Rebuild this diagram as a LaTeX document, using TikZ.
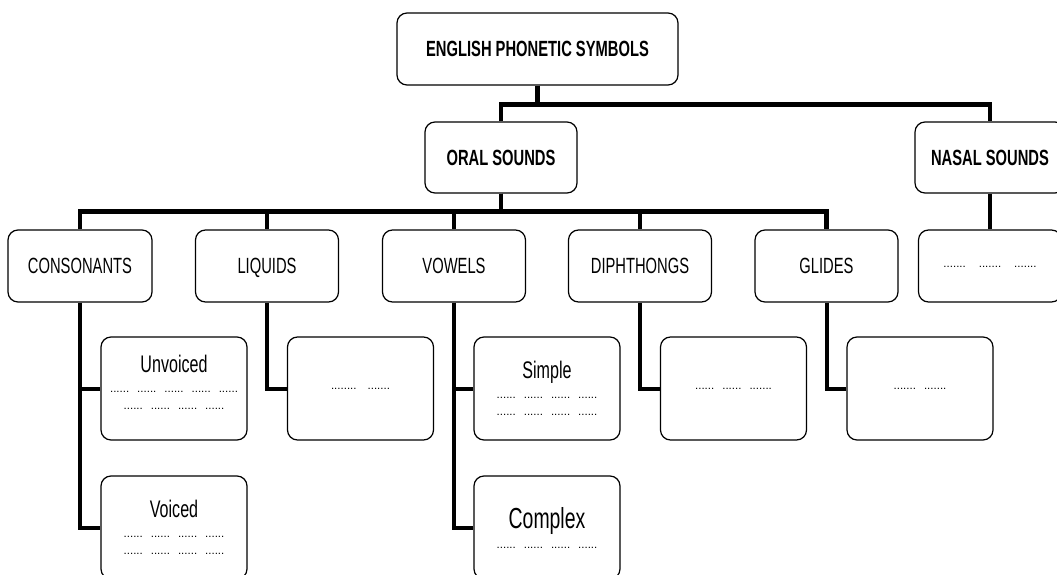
\documentclass[tikz,border=0pt]{standalone}
\usepackage{fontspec}
\setmainfont{Liberation Sans}[FakeStretch=0.67]
\newfontfamily\dotfont{Liberation Sans}
\usepackage{tikz}

\newcommand{\dotgrp}{......}
\newcommand{\gp}{\hspace{8pt}}
\newcommand{\leaflabel}[1]{{\rmfamily\fontsize{24}{26}\selectfont #1}}

\begin{document}
\begin{tikzpicture}[x=1pt, y=-1pt,
	box/.style={draw, line width=1.2pt, rounded corners=10pt, align=center, inner sep=0pt},
	head/.style={box, minimum height=71pt, text height=15.5pt, text depth=0pt, font=\fontsize{22}{24}\selectfont\bfseries},
	kind/.style={box, minimum width=143pt, minimum height=72pt, text height=15.5pt, text depth=0pt, font=\fontsize{22}{24}\selectfont},
	leaf/.style={box, minimum width=146pt, minimum height=103pt, font=\dotfont\fontsize{11.5}{17}\selectfont},
	link/.style={line width=4.5pt},
	twig/.style={line width=4pt}]
	
	\useasboundingbox (0,0) rectangle (1057,575);
	\clip (0,0) rectangle (1057,575); % nasal and bottom boxes run off the page
	
	\node[head, minimum width=281pt, minimum height=72pt] (top) at (537.5,49) {ENGLISH PHONETIC SYMBOLS};
	\node[head, minimum width=152pt] (oral) at (501,157.5) {ORAL SOUNDS};
	\node[head, minimum width=150pt] (nasal) at (990,157.5) {NASAL SOUNDS};
	
	\node[kind, minimum width=144pt] (cons) at (80,266) {CONSONANTS};
	\node[kind] (liq) at (267,266) {LIQUIDS};
	\node[kind] (vow) at (454,266) {VOWELS};
	\node[kind] (diph) at (640,266) {DIPHTHONGS};
	\node[kind] (gli) at (826.5,266) {GLIDES};
	\node[kind, text height=2pt, font=\dotfont\fontsize{11.5}{17}\selectfont] (nasalsub) at (990,266)
		{.......\hspace{13pt}.......\hspace{13pt}.......};
	
	\node[leaf] (unv) at (174,388.5) {\leaflabel{Unvoiced}\\[3pt]
		\dotgrp\gp\dotgrp\gp\dotgrp\gp\dotgrp\gp\dotgrp\\
		\dotgrp\gp\dotgrp\gp\dotgrp\gp\dotgrp\\[-5pt]};
	\node[leaf] (voi) at (174,527.5) {\leaflabel{Voiced}\\[3pt]
		\dotgrp\gp\dotgrp\gp\dotgrp\gp\dotgrp\\
		\dotgrp\gp\dotgrp\gp\dotgrp\gp\dotgrp};
	\node[leaf] (liqsub) at (360.5,388.5) {........\hspace{11pt}.......};
	\node[leaf] (simp) at (547,388.5) {\leaflabel{Simple}\\[3pt]
		\dotgrp\gp\dotgrp\gp\dotgrp\gp\dotgrp\\
		\dotgrp\gp\dotgrp\gp\dotgrp\gp\dotgrp};
	\node[leaf] (comp) at (547,527.5) {{\rmfamily\fontsize{29}{30}\selectfont Complex}\\[3pt]
		\dotgrp\gp\dotgrp\gp\dotgrp\gp\dotgrp};
	\node[leaf] (diphsub) at (733.5,388.5) {\dotgrp\gp\dotgrp\gp.......};
	\node[leaf] (glisub) at (920,388.5) {.......\gp.......};
	
	\draw[link] (top.south) -- ++(0,19) -| (oral.north);
	\draw[link] (top.south) -- ++(0,19) -| (nasal.north);
	\foreach \k in {cons, liq, vow, diph, gli}
		\draw[link] (oral.south) -- ++(0,18) -| (\k.north);
	\draw[link] (nasal.south) -- (nasalsub.north);
	\foreach \a/\b in {cons/unv, cons/voi, liq/liqsub, vow/simp, vow/comp, diph/diphsub, gli/glisub}
		\draw[twig] (\a.south) |- (\b.west);
	
\end{tikzpicture}
\end{document}
